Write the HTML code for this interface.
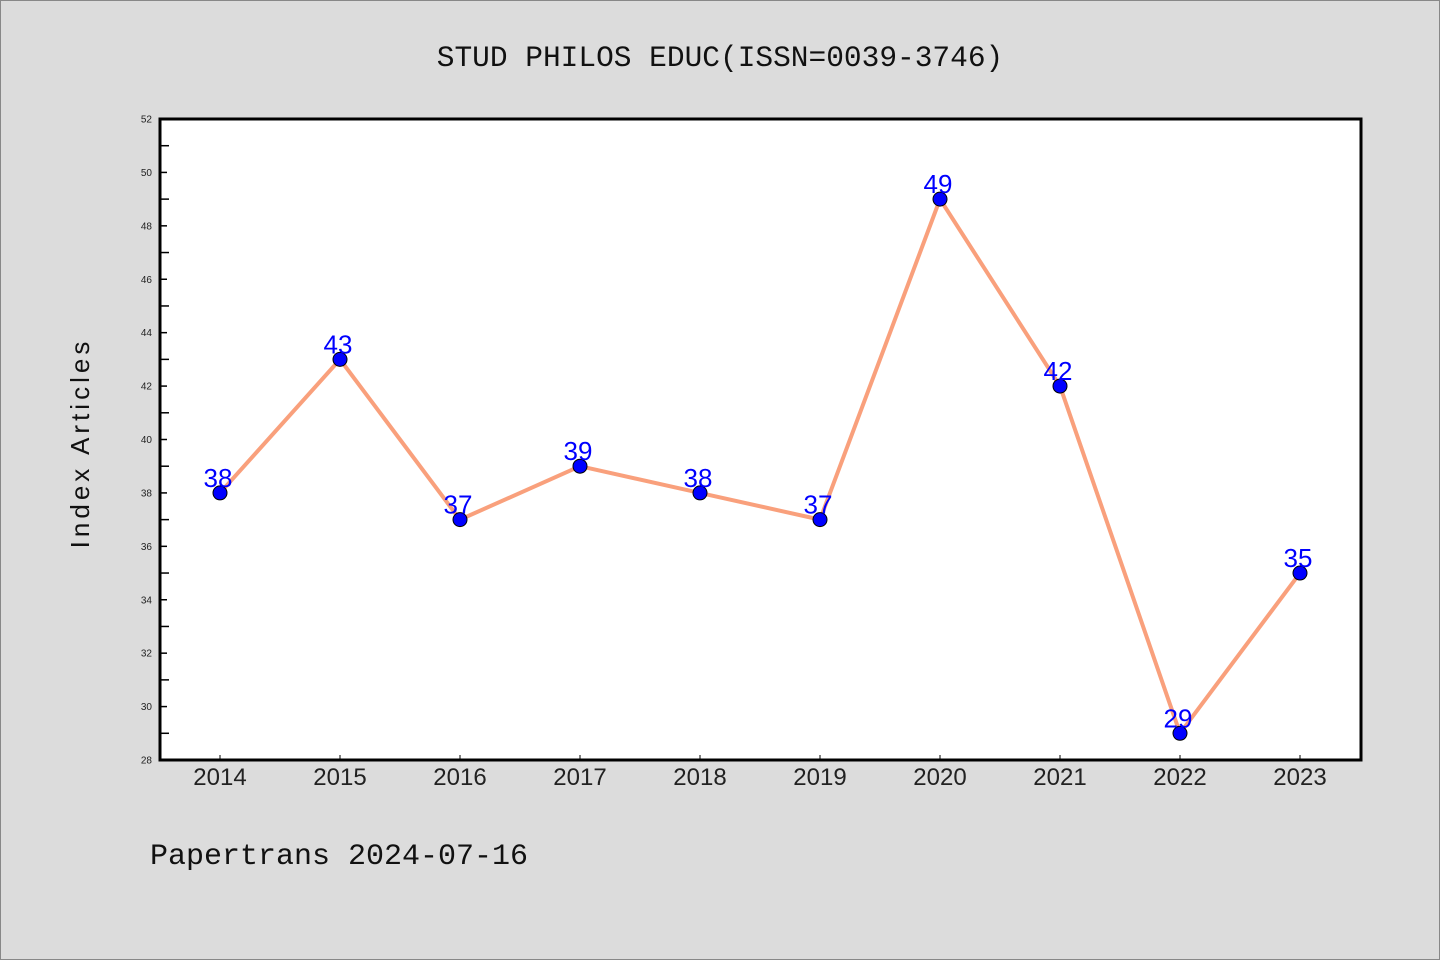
<!DOCTYPE html>
<html><head><meta charset="utf-8"><style>
body{margin:0;background:#dcdcdc;}
svg{display:block;font-family:"Liberation Mono","DejaVu Sans Mono",monospace;}
</style></head><body>
<svg id="chart" width="1440" height="960" xmlns="http://www.w3.org/2000/svg">
<rect x="0.5" y="0.5" width="1439" height="959" fill="#dcdcdc" stroke="#888"/>
<text x="720" y="66" text-anchor="middle" font-size="29.5" fill="#111">STUD PHILOS EDUC(ISSN=0039-3746)</text>
<rect x="160" y="119" width="1201" height="641" fill="#fff"/>
<g id="yaxis"></g>
<g id="xaxis"></g>
<g id="series"></g>
<rect x="160" y="119" width="1201" height="641" fill="none" stroke="#000" stroke-width="3"/>
<text transform="translate(89,443) rotate(-90)" text-anchor="middle" font-size="26" font-family="Liberation Sans, sans-serif" fill="#111" letter-spacing="4">Index Articles</text>
<text x="150" y="864" font-size="30" fill="#111">Papertrans 2024-07-16</text>
</svg>
<script>
const categories=["2014","2015","2016","2017","2018","2019","2020","2021","2022","2023"];
const values=[38,43,37,39,38,37,49,42,29,35];
const yTicks=[28,30,32,34,36,38,40,42,44,46,48,50,52];
const NS="http://www.w3.org/2000/svg";
const yMin=28,yMax=52,plotTop=119,plotBot=760;
function yScale(v){return plotBot-(v-yMin)/(yMax-yMin)*(plotBot-plotTop);}
function xScale(i){return 220+i*120;}
function mk(t,a,p){const e=document.createElementNS(NS,t);for(const k in a)e.setAttribute(k,a[k]);p.appendChild(e);return e;}
const ya=document.getElementById('yaxis'),xa=document.getElementById('xaxis'),sg=document.getElementById('series');
yTicks.forEach((v,i)=>{
 const l=mk('line',{x1:160,x2:167,y1:yScale(v),y2:yScale(v),stroke:'#000','stroke-width':1.5},ya);
 
 
 const t=mk('text',{x:152,y:yScale(v)+3.5,'text-anchor':'end','font-size':10,'font-family':'Liberation Sans, sans-serif',fill:'#222'},ya);
 t.textContent=v;
 
 
 if(i<yTicks.length-1){
  const m=mk('line',{x1:160,x2:169,y1:yScale(v+1),y2:yScale(v+1),stroke:'#000','stroke-width':1.5},ya);
  
  
 }
});
categories.forEach((c,i)=>{
 const l=mk('line',{x1:xScale(i),x2:xScale(i),y1:plotBot,y2:plotBot-5,stroke:'#000','stroke-width':1},xa);
 
 
 const t=mk('text',{x:xScale(i),y:785,'text-anchor':'middle','font-size':24,'font-family':'Liberation Sans, sans-serif',fill:'#222'},xa);
 t.textContent=c;
 
 
});
const pl=mk('polyline',{points:values.map((v,i)=>xScale(i)+','+yScale(v)).join(' '),fill:'none',stroke:'#f9a07c','stroke-width':4,'stroke-linejoin':'round'},sg);


values.forEach((v,i)=>{
 const c=mk('circle',{cx:xScale(i),cy:yScale(v),r:7,fill:'#0000ff',stroke:'#000','stroke-width':1},sg);
 
 
 const t=mk('text',{x:xScale(i)-2,y:yScale(v)-6,'text-anchor':'middle','font-size':26,'font-family':'Liberation Sans, sans-serif',fill:'#0000ff'},sg);
 t.textContent=v;
 
 
});
</script>
</body></html>
